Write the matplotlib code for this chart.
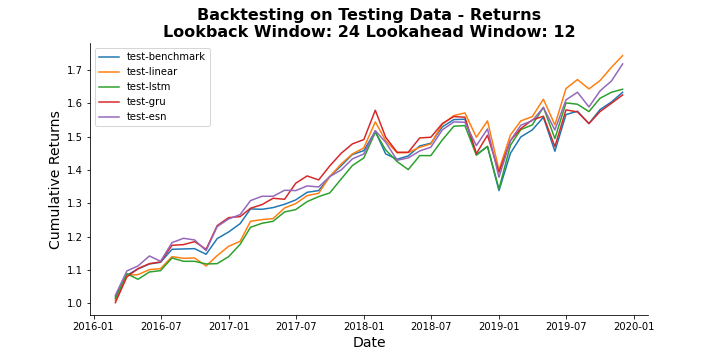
import numpy as np
import pandas as pd
import matplotlib
matplotlib.use("Agg")
import matplotlib.pyplot as plt

# month-end dates of the test period
dates = pd.date_range("2016-02-29", "2019-11-30", freq="ME")

benchmark = [1.019, 1.084, 1.103, 1.118, 1.123, 1.162, 1.163, 1.164, 1.147, 1.194,
             1.214, 1.239, 1.283, 1.282, 1.287, 1.297, 1.310, 1.333, 1.338, 1.380,
             1.413, 1.446, 1.458, 1.516, 1.448, 1.432, 1.442, 1.472, 1.480, 1.529,
             1.551, 1.552, 1.446, 1.470, 1.338, 1.450, 1.499, 1.520, 1.558, 1.456,
             1.566, 1.576, 1.539, 1.581, 1.604, 1.633]
linear = [1.009, 1.084, 1.086, 1.101, 1.104, 1.140, 1.135, 1.136, 1.112, 1.143,
          1.171, 1.186, 1.246, 1.251, 1.254, 1.286, 1.299, 1.323, 1.330, 1.380,
          1.418, 1.448, 1.466, 1.544, 1.488, 1.451, 1.452, 1.468, 1.478, 1.537,
          1.563, 1.571, 1.498, 1.547, 1.400, 1.505, 1.547, 1.560, 1.612, 1.535,
          1.644, 1.671, 1.643, 1.668, 1.708, 1.743]
lstm = [1.014, 1.089, 1.072, 1.094, 1.098, 1.136, 1.126, 1.126, 1.118, 1.119,
        1.140, 1.177, 1.228, 1.240, 1.246, 1.274, 1.281, 1.305, 1.320, 1.331,
        1.373, 1.413, 1.436, 1.513, 1.460, 1.425, 1.401, 1.443, 1.443, 1.490,
        1.531, 1.533, 1.444, 1.471, 1.343, 1.474, 1.521, 1.535, 1.588, 1.494,
        1.601, 1.597, 1.575, 1.615, 1.633, 1.642]
gru = [1.002, 1.079, 1.104, 1.119, 1.124, 1.174, 1.176, 1.185, 1.162, 1.233,
       1.257, 1.260, 1.285, 1.296, 1.315, 1.312, 1.360, 1.382, 1.370, 1.412,
       1.450, 1.478, 1.491, 1.579, 1.498, 1.453, 1.453, 1.496, 1.498, 1.539,
       1.560, 1.558, 1.449, 1.504, 1.393, 1.488, 1.524, 1.550, 1.561, 1.470,
       1.580, 1.574, 1.539, 1.575, 1.600, 1.625]
esn = [1.024, 1.097, 1.112, 1.142, 1.126, 1.182, 1.195, 1.190, 1.158, 1.230,
       1.253, 1.266, 1.308, 1.321, 1.321, 1.339, 1.338, 1.352, 1.349, 1.380,
       1.400, 1.433, 1.448, 1.518, 1.483, 1.429, 1.436, 1.457, 1.468, 1.520,
       1.544, 1.543, 1.473, 1.523, 1.378, 1.488, 1.534, 1.548, 1.587, 1.520,
       1.610, 1.633, 1.589, 1.637, 1.667, 1.718]

names = ["test-benchmark", "test-linear", "test-lstm", "test-gru", "test-esn"]
series = [benchmark, linear, lstm, gru, esn]

fig, ax = plt.subplots(figsize=(10, 5), dpi=72)
fig.subplots_adjust(bottom=0.125)
for name, vals in zip(names, series):
    ax.plot(dates, vals, label=name, linewidth=1.5)

ax.set_title("Backtesting on Testing Data - Returns\nLookback Window: 24 Lookahead Window: 12",
             fontsize=16, fontweight="bold")
ax.set_xlabel("Date", fontsize=14)
ax.set_ylabel("Cumulative Returns", fontsize=14)
ax.legend(loc="upper left")
ax.spines["top"].set_visible(False)
ax.spines["right"].set_visible(False)

fig.savefig("out.png", dpi=72)
